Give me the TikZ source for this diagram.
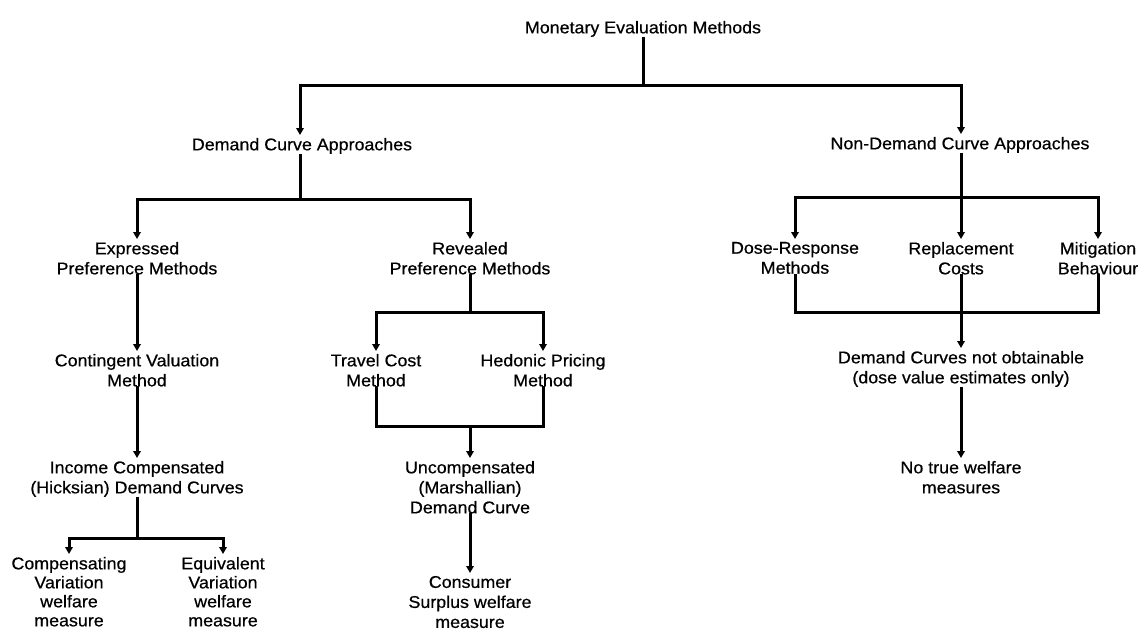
\documentclass[tikz,border=0pt]{standalone}
\usepackage{fontspec}
\setmainfont{Liberation Sans}[FakeStretch=1.05,FakeBold=0.6]
\usetikzlibrary{arrows.meta}
\begin{document}
\begin{tikzpicture}[x=1pt,y=-1pt,
  lbl/.style={inner sep=0pt,outer sep=0pt,align=center,anchor=north,
    font=\fontsize{17}{20}\selectfont},
  tight/.style={font=\fontsize{17}{19}\selectfont},
  conn/.style={line width=3pt,line join=miter},
  arr/.style={conn,-{Triangle[width=7.5pt,length=7pt]},shorten >=3pt}]
\useasboundingbox (0,0) rectangle (1140,635);
% nodes
\node[lbl] (mon) at (643,21) {Monetary Evaluation Methods};
\node[lbl] (dca) at (302,138) {Demand Curve Approaches};
\node[lbl] (nda) at (960,137) {Non-Demand Curve Approaches};
\node[lbl] (exp) at (137,242) {Expressed\\Preference Methods};
\node[lbl] (rev) at (470,242) {Revealed\\Preference Methods};
\node[lbl] (dose) at (795,242) {Dose-Response\\Methods};
\node[lbl] (rep) at (961,242) {Replacement\\Costs};
\node[lbl] (mit) at (1098,242) {Mitigation\\Behaviour};
\node[lbl] (cv) at (137,354) {Contingent Valuation\\Method};
\node[lbl] (tc) at (376,354) {Travel Cost\\Method};
\node[lbl] (hp) at (543,354) {Hedonic Pricing\\Method};
\node[lbl] (dcn) at (961,351) {Demand Curves not obtainable\\(dose value estimates only)};
\node[lbl] (ich) at (137,461) {Income Compensated\\(Hicksian) Demand Curves};
\node[lbl] (um) at (470,461) {Uncompensated\\(Marshallian)\\Demand Curve};
\node[lbl] (nt) at (961,461) {No true welfare\\measures};
\node[lbl,tight] (cvw) at (69,557) {Compensating\\Variation\\welfare\\measure};
\node[lbl,tight] (evw) at (223,557) {Equivalent\\Variation\\welfare\\measure};
\node[lbl] (cs) at (470,576) {Consumer\\Surplus welfare\\measure};
% junctions
\coordinate (j1) at (643,85);
\coordinate (j2) at (300,199);
\coordinate (j3) at (961,197);
\coordinate (j4) at (961,312);
\coordinate (j5) at (137,538);
\coordinate (j6) at (470,312);
\coordinate (j7) at (470,426);
% connectors
\draw[conn] (mon.south) -- (j1);
\draw[arr] (j1) -| (dca.north -| j2);
\draw[arr] (j1) -| (nda.north -| j3);
\draw[conn] (dca.south -| j2) -- (j2);
\draw[arr] (j2) -| (exp.north);
\draw[arr] (j2) -| (rev.north);
\draw[conn] (nda.south -| j3) -- (j3);
\draw[arr] (j3) -| (dose.north);
\draw[arr] (j3) -- (rep.north);
\draw[arr] (j3) -| (mit.north);
\draw[conn] (dose.south) |- (j4);
\draw[conn] (mit.south) |- (j4);
\draw[arr] (rep.south) -- (dcn.north);
\draw[arr] (dcn.south) -- (nt.north);
\draw[arr] (exp.south) -- (cv.north);
\draw[arr] (cv.south) -- (ich.north);
\draw[conn] (ich.south) -- (j5);
\draw[arr] (j5) -| (cvw.north);
\draw[arr] (j5) -| (evw.north);
\draw[conn] (rev.south) -- (j6);
\draw[arr] (j6) -| (tc.north);
\draw[arr] (j6) -| (hp.north);
\draw[conn] (tc.south) |- (j7);
\draw[conn] (hp.south) |- (j7);
\draw[arr] (j7) -- (um.north);
\draw[arr] (um.south) -- (cs.north);
\end{tikzpicture}
\end{document}
